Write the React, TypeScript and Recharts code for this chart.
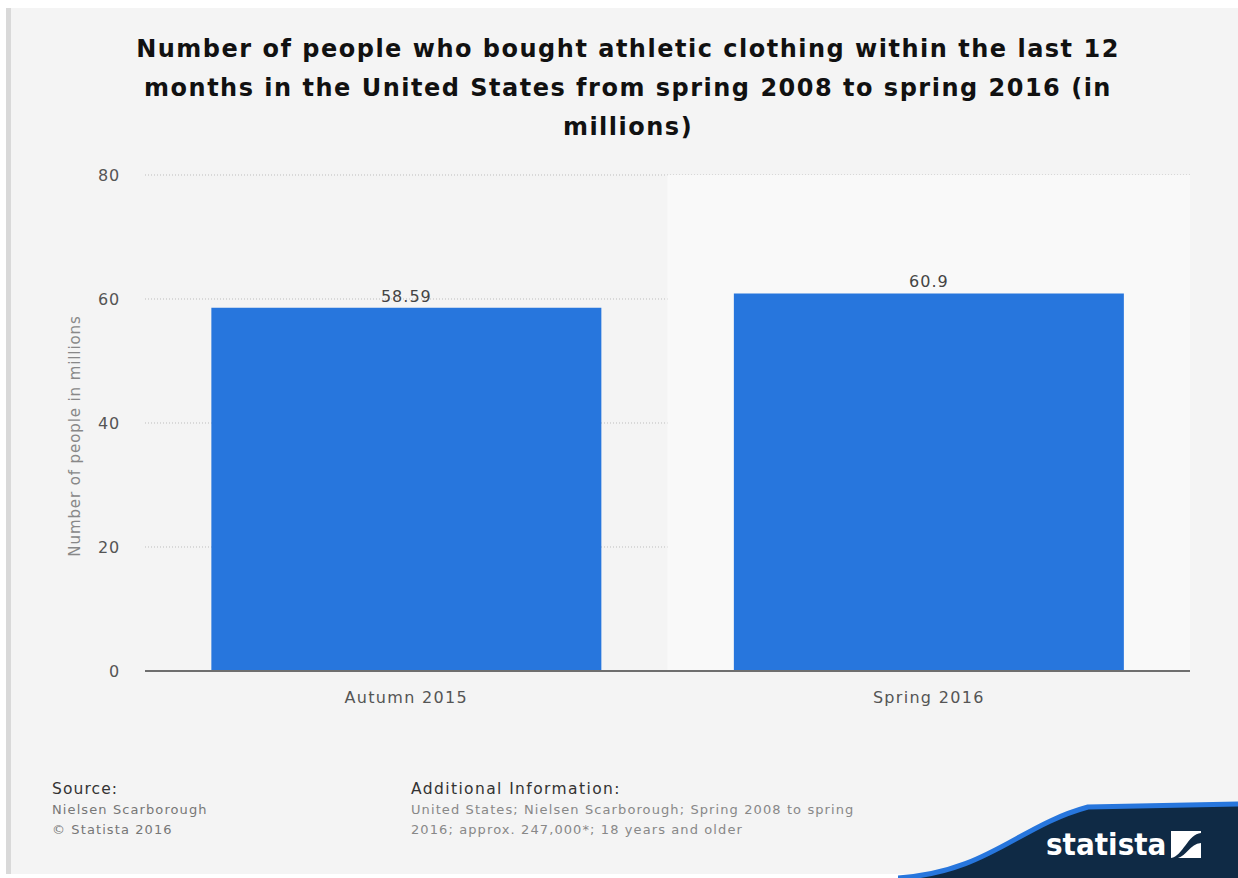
import React from 'react';
import {
  BarChart,
  Bar,
  XAxis,
  YAxis,
  CartesianGrid,
  ReferenceArea,
  LabelList,
} from 'recharts';

const periods = ['Autumn 2015', 'Spring 2016'];
const buyers = [58.59, 60.9];
const yTicks = [0, 20, 40, 60, 80];

const titleLines = [
  'Number of people who bought athletic clothing within the last 12',
  'months in the United States from spring 2008 to spring 2016 (in',
  'millions)',
];
const yAxisTitle = 'Number of people in millions';
const sourceLines = ['Nielsen Scarborough', '\u00a9 Statista 2016'];
const infoLines = [
  'United States; Nielsen Scarborough; Spring 2008 to spring',
  '2016; approx. 247,000*; 18 years and older',
];

const chartData = periods.map((period, i) => ({ period, value: buyers[i] }));

const FONT = '"DejaVu Sans", Verdana, sans-serif';
const BLUE = '#2776dd';

// rotated axis title, sits a bit below the plot's middle like the original
const AxisTitle = ({ viewBox }: any) => {
  const cx = viewBox.x - 10;
  const cy = viewBox.y + viewBox.height / 2 + 13;
  return (
    <text
      x={cx}
      y={cy}
      transform={`rotate(-90, ${cx}, ${cy})`}
      textAnchor="middle"
      dominantBaseline="central"
      fill="#888"
      fontSize={15}
      fontFamily={FONT}
      style={{ letterSpacing: 0.9 }}
    >
      {yAxisTitle}
    </text>
  );
};

const StatistaLogo = () => (
  <svg
    width={340}
    height={80}
    style={{ position: 'absolute', right: 0, bottom: 0 }}
  >
    <path
      d="M0 80 C 90 74, 120 28, 190 9 L 340 6 L 340 80 Z"
      fill="#0f2a45"
    />
    <path
      d="M0 80 C 90 74, 120 28, 190 9 L 340 6"
      fill="none"
      stroke={BLUE}
      strokeWidth={5}
    />
    <text
      x={148}
      y={57}
      fill="#ffffff"
      fontFamily='"DejaVu Sans Condensed", "DejaVu Sans", sans-serif'
      fontWeight="bold"
      fontSize={31}
    >
      statista
    </text>
    <rect x={273} y={33} width={30} height={27} fill="#ffffff" />
    <path d="M273 60 C 285 58, 290 36, 303 35 L 303 45 C 292 46, 288 58, 280 60 Z" fill="#0f2a45" />
  </svg>
);

export default function App() {
  return (
    <div
      style={{
        position: 'absolute',
        left: 0,
        top: 0,
        width: 1238,
        height: 878,
        background: '#ffffff',
        overflow: 'hidden',
        fontFamily: FONT,
      }}
    >
      <div
        style={{
          position: 'absolute',
          left: 6,
          top: 8,
          width: 1232,
          height: 866,
          background: '#f4f4f4',
          borderLeft: '5px solid #d9d9d9',
          boxSizing: 'border-box',
        }}
      />
      <div
        style={{
          position: 'absolute',
          left: 0,
          top: 30,
          width: 1256,
          textAlign: 'center',
          fontSize: 24,
          fontWeight: 'bold',
          color: '#111',
          lineHeight: '39px',
          letterSpacing: 1.5,
        }}
      >
        {titleLines.map((line) => (
          <div key={line}>{line}</div>
        ))}
      </div>

      <div style={{ position: 'absolute', left: 0, top: 0 }}>
        <BarChart
          width={1238}
          height={878}
          data={chartData}
          margin={{ top: 175, right: 48, bottom: 167, left: 85 }}
          barCategoryGap="12.7%"
        >
          <ReferenceArea
            x1="Spring 2016"
            x2="Spring 2016"
            y1={0}
            y2={80}
            fill="#f9f9f9"
            fillOpacity={1}
            stroke="none"
          />
          <CartesianGrid
            vertical={false}
            stroke="#bdbdbd"
            strokeDasharray="1 2"
          />
          <XAxis
            dataKey="period"
            height={40}
            tickSize={0}
            tickMargin={21}
            axisLine={{ stroke: '#6e6e6e', strokeWidth: 2 }}
            tick={{ fill: '#555', fontSize: 16, fontFamily: FONT, letterSpacing: 1.3 }}
          />
          <YAxis
            width={60}
            domain={[0, 80]}
            ticks={yTicks}
            tickSize={0}
            tickMargin={25}
            axisLine={false}
            tick={{ fill: '#555', fontSize: 16, fontFamily: FONT, letterSpacing: 0.8 }}
            label={<AxisTitle />}
          />
          <Bar dataKey="value" fill={BLUE} isAnimationActive={false}>
            <LabelList
              dataKey="value"
              position="top"
              offset={6}
              fill="#444"
              fontSize={16}
              fontFamily={FONT}
              style={{ letterSpacing: 1 }}
            />
          </Bar>
        </BarChart>
      </div>

      <div style={{ position: 'absolute', left: 52, top: 778, letterSpacing: 1.1 }}>
        <div style={{ fontSize: 15.5, color: '#333', lineHeight: '22px' }}>Source:</div>
        {sourceLines.map((line) => (
          <div key={line} style={{ fontSize: 13, color: '#777', lineHeight: '20px' }}>
            {line}
          </div>
        ))}
      </div>
      <div style={{ position: 'absolute', left: 411, top: 778, letterSpacing: 1.1 }}>
        <div style={{ fontSize: 15.5, color: '#333', lineHeight: '22px', letterSpacing: 1.4 }}>
          Additional Information:
        </div>
        {infoLines.map((line) => (
          <div key={line} style={{ fontSize: 13, color: '#888', lineHeight: '20px' }}>
            {line}
          </div>
        ))}
      </div>

      <StatistaLogo />
    </div>
  );
}
